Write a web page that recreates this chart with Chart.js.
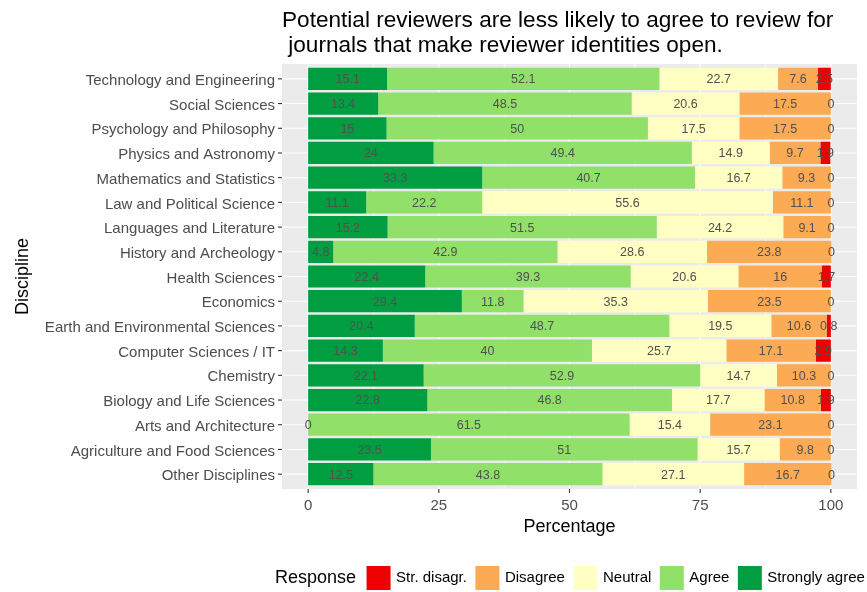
<!DOCTYPE html>
<html><head><meta charset="utf-8">
<script src="https://cdn.jsdelivr.net/npm/chart.js@4"></script>
<style>html,body{margin:0;padding:0;background:#fff;}#wrap{width:867px;height:592px;position:relative}</style>
</head><body><div id="wrap"><canvas id="c" width="867" height="592"></canvas></div>
<script>
const categories = ['Technology and Engineering','Social Sciences','Psychology and Philosophy','Physics and Astronomy','Mathematics and Statistics','Law and Political Science','Languages and Literature','History and Archeology','Health Sciences','Economics','Earth and Environmental Sciences','Computer Sciences / IT','Chemistry','Biology and Life Sciences','Arts and Architecture','Agriculture and Food Sciences','Other Disciplines'];
const stronglyAgree = [15.1,13.4,15,24,33.3,11.1,15.2,4.8,22.4,29.4,20.4,14.3,22.1,22.8,0,23.5,12.5];
const agree = [52.1,48.5,50,49.4,40.7,22.2,51.5,42.9,39.3,11.8,48.7,40,52.9,46.8,61.5,51,43.8];
const neutral = [22.7,20.6,17.5,14.9,16.7,55.6,24.2,28.6,20.6,35.3,19.5,25.7,14.7,17.7,15.4,15.7,27.1];
const disagree = [7.6,17.5,17.5,9.7,9.3,11.1,9.1,23.8,16,23.5,10.6,17.1,10.3,10.8,23.1,9.8,16.7];
const strDisagree = [2.5,0,0,1.9,0,0,0,0,1.7,0,0.8,2.9,0,1.9,0,0,0];
const seriesNames = ['Strongly agree','Agree','Neutral','Disagree','Str. disagr.'];
const seriesColors = ['#009e41','#90e06a','#ffffc4','#fdaa55','#ee0000'];
const xTicks = [0,25,50,75,100];
const xMinor = [12.5,37.5,62.5,87.5];
const titleLines = ['Potential reviewers are less likely to agree to review for',' journals that make reviewer identities open.'];
const xTitle = 'Percentage';
const yTitle = 'Discipline';
const legendTitle = 'Response';

const FONT = '"Liberation Sans", Arial, Helvetica, sans-serif';
const seriesData = [stronglyAgree, agree, neutral, disagree, strDisagree];

function seg(ctx,x1,y1,x2,y2){ctx.beginPath();ctx.moveTo(x1,y1);ctx.lineTo(x2,y2);ctx.stroke();}

const panelPlugin = {
  id:'panel',
  beforeDatasetsDraw(chart){
    const {ctx, chartArea:a} = chart; const x=chart.scales.x, y=chart.scales.y;
    const band=(a.bottom-a.top)/categories.length, ext=0.1*band;
    const top=a.top-ext, bot=a.bottom+ext;
    ctx.save();
    ctx.fillStyle='#ebebeb'; ctx.fillRect(a.left,top,a.right-a.left,bot-top);
    ctx.strokeStyle='#ffffff';
    ctx.lineWidth=0.55;
    xMinor.forEach(v=>{const p=x.getPixelForValue(v); seg(ctx,p,top,p,bot);});
    ctx.lineWidth=1.1;
    xTicks.forEach(v=>{const p=x.getPixelForValue(v); seg(ctx,p,top,p,bot);});
    categories.forEach((c,i)=>{const p=y.getPixelForValue(i); seg(ctx,a.left,p,a.right,p);});
    ctx.strokeStyle='#333333'; ctx.lineWidth=1.1;
    xTicks.forEach(v=>{const p=x.getPixelForValue(v); seg(ctx,p,bot,p,bot+4);});
    categories.forEach((c,i)=>{const p=y.getPixelForValue(i); seg(ctx,a.left-4,p,a.left,p);});
    ctx.restore();
  },
  afterDatasetsDraw(chart){
    const ctx=chart.ctx;
    ctx.save();
    ctx.font='12.5px '+FONT; ctx.fillStyle='#505050'; ctx.textAlign='center'; ctx.textBaseline='middle';
    chart.data.datasets.forEach((ds,i)=>{
      const meta=chart.getDatasetMeta(i);
      meta.data.forEach((bar,j)=>{
        ctx.fillText(String(ds.data[j]), (bar.x+bar.base)/2, bar.y+1);
      });
    });
    ctx.restore();
  },
  afterDraw(chart){
    const ctx=chart.ctx, a=chart.chartArea;
    const band=(a.bottom-a.top)/categories.length, ext=0.1*band;
    const top=a.top-ext, bot=a.bottom+ext;
    ctx.save();
    ctx.fillStyle='#000'; ctx.textBaseline='alphabetic'; ctx.textAlign='left';
    ctx.font='22.6px '+FONT;
    ctx.fillText(titleLines[0], a.left, 27);
    ctx.fillText(titleLines[1], a.left, 52);
    ctx.font='18px '+FONT; ctx.textAlign='center'; ctx.textBaseline='middle';
    ctx.fillText(xTitle,(a.left+a.right)/2,527);
    ctx.save(); ctx.translate(23,(top+bot)/2); ctx.rotate(-Math.PI/2); ctx.fillText(yTitle,0,0); ctx.restore();
    // legend
    let lx=275; const ly=578;
    ctx.textAlign='left'; ctx.font='18px '+FONT;
    ctx.fillText(legendTitle,lx,ly); lx+=ctx.measureText(legendTitle).width+10.5;
    ctx.font='15px '+FONT;
    for(let k=seriesNames.length-1;k>=0;k--){
      ctx.fillStyle=seriesColors[k]; ctx.fillRect(lx,ly-12,24,24);
      lx+=24+5.5;
      ctx.fillStyle='#000'; ctx.fillText(seriesNames[k],lx,ly);
      lx+=ctx.measureText(seriesNames[k]).width+8.5;
    }
    ctx.restore();
  }
};

new Chart(document.getElementById('c'),{
  type:'bar',
  data:{labels:categories, datasets:seriesNames.map((n,i)=>({label:n,data:seriesData[i],backgroundColor:seriesColors[i],borderWidth:0,barPercentage:0.9,categoryPercentage:1}))},
  options:{
    indexAxis:'y', responsive:false, animation:false, devicePixelRatio:1,
    layout:{padding:{left:0,right:10,top:66.5,bottom:75.5}},
    plugins:{legend:{display:false},title:{display:false},tooltip:{enabled:false}},
    scales:{
      x:{type:'linear',stacked:true,min:-5,max:105,
        afterBuildTicks(s){s.ticks=xTicks.map(v=>({value:v}));},
        afterFit(s){s.height=30;},
        grid:{display:false,drawTicks:false},border:{display:false},
        ticks:{font:{size:15,family:FONT},color:'#4d4d4d',padding:10,maxRotation:0}},
      y:{type:'category',stacked:true,offset:true,
        afterFit(s){s.width=282;},
        grid:{display:false,drawTicks:false},border:{display:false},
        ticks:{font:{size:15,family:FONT},color:'#4d4d4d',padding:7,autoSkip:false,labelOffset:2}}
    }
  },
  plugins:[panelPlugin]
});
</script></body></html>
